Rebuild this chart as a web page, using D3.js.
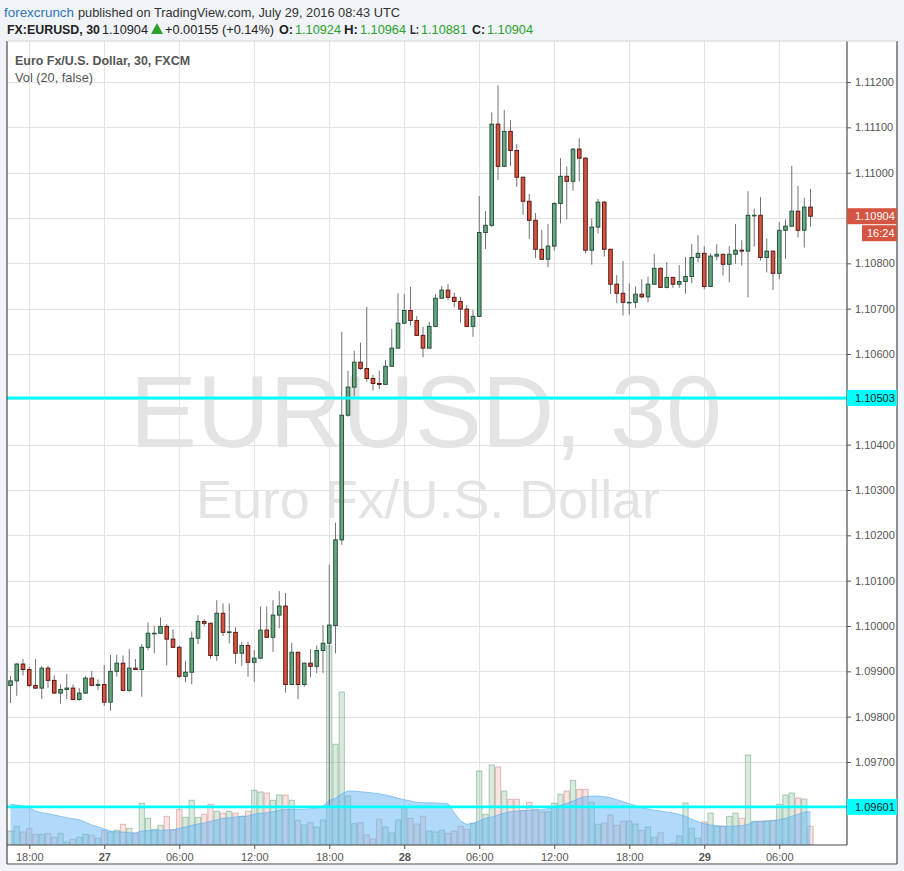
<!DOCTYPE html>
<html><head><meta charset="utf-8">
<script src="https://cdn.jsdelivr.net/npm/d3@7"></script>
<style>
html,body{margin:0;padding:0;background:#f0f3f7;}
svg{display:block;font-family:"Liberation Sans",Arial,sans-serif;}
</style></head><body>
<svg id="chart" width="904" height="871"></svg>
<script>
// ---------- DATA ----------
const startTime = "2016-07-26T16:30:00Z"; // first 30-minute bar
const barMinutes = 30;
const opens = [1.09869,1.09879,1.09916,1.09904,1.09869,1.09863,1.09907,1.09880,1.09852,1.09860,
1.09863,1.09838,1.09852,1.09885,1.09869,1.09871,1.09832,1.09900,1.09918,1.09858,
1.09907,1.09904,1.09953,1.09983,1.09984,1.09999,1.09971,1.09953,1.09889,1.09898,
1.09973,1.10010,1.10006,1.09935,1.10028,1.09986,1.09986,1.09940,1.09957,1.09920,
1.09929,1.09991,1.09975,1.10024,1.10044,1.09871,1.09942,1.09871,1.09918,1.09911,
1.09946,1.09962,1.10001,1.10190,1.10465,1.10527,1.10582,1.10568,1.10546,1.10535,
1.10533,1.10573,1.10613,1.10668,1.10696,1.10674,1.10641,1.10613,1.10661,1.10723,
1.10741,1.10725,1.10716,1.10699,1.10661,1.10683,1.10868,1.10884,1.11107,1.11014,
1.11091,1.11049,1.10990,1.10937,1.10895,1.10831,1.10809,1.10838,1.10932,1.10992,
1.10981,1.11052,1.11032,1.10829,1.10880,1.10935,1.10831,1.10754,1.10734,1.10713,
1.10714,1.10732,1.10726,1.10754,1.10789,1.10747,1.10769,1.10754,1.10760,1.10771,
1.10813,1.10822,1.10749,1.10816,1.10820,1.10798,1.10820,1.10829,1.10827,1.10905,
1.10906,1.10813,1.10827,1.10778,1.10873,1.10882,1.10915,1.10873,1.10924];
const highs = [1.09890,1.09919,1.09927,1.09910,1.09927,1.09912,1.09912,1.09891,1.09871,1.09894,
1.09871,1.09863,1.09890,1.09901,1.09882,1.09914,1.09936,1.09936,1.09935,1.09949,
1.09927,1.09960,1.10008,1.10000,1.10019,1.10004,1.09993,1.09957,1.09923,1.09988,
1.10024,1.10015,1.10007,1.10057,1.10050,1.10050,1.09997,1.09965,1.09965,1.09947,
1.10043,1.10043,1.10057,1.10077,1.10073,1.09963,1.09943,1.09919,1.09949,1.09957,
1.10002,1.10135,1.10228,1.10649,1.10563,1.10607,1.10625,1.10704,1.10554,1.10563,
1.10587,1.10655,1.10734,1.10732,1.10748,1.10684,1.10660,1.10671,1.10732,1.10750,
1.10754,1.10735,1.10726,1.10708,1.10697,1.10949,1.10915,1.11133,1.11193,1.11138,
1.11116,1.11063,1.10991,1.10953,1.10911,1.10874,1.10887,1.10935,1.11032,1.11014,
1.11054,1.11076,1.11034,1.10899,1.10942,1.10937,1.10832,1.10774,1.10805,1.10756,
1.10749,1.10765,1.10771,1.10821,1.10791,1.10803,1.10770,1.10796,1.10814,1.10843,
1.10862,1.10838,1.10822,1.10842,1.10821,1.10838,1.10887,1.10851,1.10959,1.10921,
1.10946,1.10855,1.10828,1.10891,1.10897,1.11015,1.10971,1.10944,1.10964];
const lows = [1.09830,1.09846,1.09891,1.09865,1.09861,1.09839,1.09863,1.09850,1.09829,1.09839,
1.09837,1.09835,1.09850,1.09868,1.09859,1.09824,1.09813,1.09888,1.09856,1.09855,
1.09903,1.09844,1.09947,1.09940,1.09984,1.09913,1.09952,1.09885,1.09876,1.09871,
1.09960,1.10000,1.09928,1.09923,1.09978,1.09962,1.09917,1.09912,1.09888,1.09877,
1.09927,1.09974,1.09943,1.09995,1.09853,1.09869,1.09838,1.09866,1.09887,1.09896,
1.09896,1.09601,1.09940,1.10179,1.10462,1.10507,1.10565,1.10539,1.10519,1.10523,
1.10532,1.10572,1.10612,1.10667,1.10663,1.10640,1.10593,1.10612,1.10660,1.10722,
1.10719,1.10703,1.10669,1.10660,1.10638,1.10682,1.10832,1.10880,1.10984,1.11013,
1.11015,1.10969,1.10907,1.10854,1.10812,1.10808,1.10791,1.10828,1.10888,1.10897,
1.10960,1.10981,1.10822,1.10797,1.10866,1.10815,1.10732,1.10712,1.10685,1.10687,
1.10701,1.10723,1.10714,1.10753,1.10746,1.10745,1.10746,1.10746,1.10733,1.10756,
1.10802,1.10743,1.10748,1.10807,1.10773,1.10758,1.10799,1.10795,1.10725,1.10837,
1.10806,1.10780,1.10741,1.10765,1.10810,1.10880,1.10857,1.10835,1.10881];
const closes = [1.09879,1.09916,1.09904,1.09869,1.09863,1.09907,1.09880,1.09852,1.09860,1.09863,
1.09838,1.09852,1.09885,1.09869,1.09871,1.09832,1.09900,1.09918,1.09858,1.09907,
1.09904,1.09953,1.09984,1.09984,1.09999,1.09971,1.09953,1.09889,1.09898,1.09973,
1.10010,1.10006,1.09935,1.10028,1.09986,1.09987,1.09940,1.09957,1.09920,1.09929,
1.09991,1.09975,1.10024,1.10044,1.09871,1.09942,1.09871,1.09918,1.09911,1.09946,
1.09962,1.10002,1.10190,1.10465,1.10527,1.10582,1.10568,1.10546,1.10535,1.10533,
1.10573,1.10613,1.10668,1.10696,1.10674,1.10641,1.10613,1.10661,1.10723,1.10741,
1.10725,1.10716,1.10699,1.10661,1.10683,1.10868,1.10884,1.11107,1.11014,1.11091,
1.11049,1.10990,1.10937,1.10895,1.10831,1.10809,1.10838,1.10932,1.10992,1.10981,
1.11052,1.11032,1.10829,1.10880,1.10935,1.10831,1.10754,1.10734,1.10714,1.10714,
1.10732,1.10726,1.10754,1.10789,1.10747,1.10769,1.10754,1.10760,1.10771,1.10813,
1.10822,1.10749,1.10816,1.10820,1.10798,1.10820,1.10829,1.10827,1.10906,1.10906,
1.10813,1.10827,1.10778,1.10873,1.10882,1.10915,1.10873,1.10924,1.10904];
const volumes = [14,18.7,13,16.7,10.7,10.7,11.7,7.7,11.7,3,
5.7,7.7,10.7,9.7,6.7,14.7,13,14.7,20.7,16.7,
11.7,41.7,26.7,15.7,19.7,28.7,15,35.7,27.7,44.7,
27.7,30.7,40.7,33.7,32,33.7,32,28.7,33.7,54.7,
53,52,44.7,50,50,44.7,24.7,20,22.3,18,
25,199,100.7,153,49,21.3,22.3,10,6,25.7,
18,12,25,37.3,26.7,21,28.7,14,13,14.7,
11.7,14,18.7,15.7,21.7,74,30.7,80,78,54,
45.7,45.7,34.7,42.7,35.7,33.3,33.3,41.7,50.7,54,
64.7,55.7,55.7,42.7,20.7,22,30,19.7,23.7,24,
21,14.7,18,7.7,12.3,0.7,2,9,42,16.7,
6.7,23,32,18.7,18.7,28.7,32,26.7,90,23.7,
23.7,24,24.7,40.7,50,52,47,46,18.7];
const volumeMA = [40.7,40,39,37.3,34,32.3,31.3,30,28.7,27.3,
26.3,25.3,22.7,20,18,16,14,13.3,13,12.3,
12,14,14.3,14.7,14.7,15,15.3,16.7,18,19.7,
21,22,23.7,25,26.7,27.3,28,28.7,29,30.7,
31.7,32.3,33.3,34.7,35.7,35.7,35.7,35.7,36.3,37.3,
38.7,44.7,46.7,51.3,54,54,53.3,52.7,52,51.3,
50,48.7,46.7,45.3,44,42.7,42.3,42.3,42,41.7,
41.3,32.3,24,20.7,21.7,24,26.7,28,30,32,
33.3,34,34.3,34.7,35,35.3,36.3,37.7,39.7,41.7,
44,46.7,48.3,49,49,48.3,47.3,45.3,43.3,41.3,
39.3,37.3,36,34.7,34,33,32,30.7,28.7,25.7,
23.3,21.3,20,19.3,18.7,18.7,19,19.3,20.7,23,
23.7,24,24.3,25.3,26.7,28.7,30.7,33,33.3];
const priceTicks = [1.096,1.097,1.098,1.099,1.100,1.101,1.102,1.103,1.104,1.105,1.106,1.107,1.108,1.109,1.110,1.111,1.112];
const timeTickLabels = ["18:00","27","06:00","12:00","18:00","28","06:00","12:00","18:00","29","06:00"];
const horizontalLines = [1.10503, 1.09601];
const lastPrice = 1.10904;
const countdown = "16:24";

// ---------- LAYOUT ----------
const svg = d3.select("#chart");
const L = 7, R = 847, T = 41, B = 845, FR = 897, FB = 864;
const UP = "#6ba583", UPB = "#225437", DN = "#d75442", DNB = "#5b1a13", WICK = "#737375";
const t = i => new Date(Date.parse(startTime) + i * barMinutes * 60000);
const x = d3.scaleUtc().domain([t(-0.56), t(133.84)]).range([L, R]);
const y = d3.scaleLinear().domain([1.095169, 1.112905]).range([B, T]);
const yv = d3.scaleLinear().domain([0, 200]).range([B, B - 200]);
const bars = opens.map((o, i) => ({i, time: t(i), o, h: highs[i], l: lows[i], c: closes[i], v: volumes[i], ma: volumeMA[i], up: closes[i] >= o}));
const barW = x(t(1)) - x(t(0));

// panel
svg.append("rect").attr("x", L).attr("y", T).attr("width", FR - L).attr("height", FB - T).attr("fill", "#fff");
svg.append("defs").append("clipPath").attr("id", "plot").append("rect")
  .attr("x", L).attr("y", T).attr("width", R - L).attr("height", B - T);

// watermark
svg.append("text").attr("x", 426).attr("y", 447).attr("text-anchor", "middle")
  .attr("font-size", 102).attr("fill", "#e4e4e4").attr("textLength", 592).attr("lengthAdjust", "spacingAndGlyphs")
  .text("EURUSD, 30");
svg.append("text").attr("x", 428).attr("y", 518).attr("text-anchor", "middle")
  .attr("font-size", 54).attr("fill", "#e4e4e4").attr("textLength", 464).attr("lengthAdjust", "spacingAndGlyphs")
  .text("Euro Fx/U.S. Dollar");

// grid
const timeTicks = d3.utcHour.every(6).range(x.domain()[0], x.domain()[1]);
const grid = svg.append("g").attr("stroke", "#e3e3e3").attr("stroke-width", 1);
grid.selectAll("line.h").data(priceTicks).join("line")
  .attr("x1", L).attr("x2", R).attr("y1", d => Math.round(y(d)) + 0.5).attr("y2", d => Math.round(y(d)) + 0.5);
grid.selectAll("line.v").data(timeTicks).join("line")
  .attr("y1", T).attr("y2", B).attr("x1", d => Math.round(x(d)) + 0.5).attr("x2", d => Math.round(x(d)) + 0.5);

const plot = svg.append("g").attr("clip-path", "url(#plot)");

// volume
plot.append("g").selectAll("rect").data(bars).join("rect")
  .attr("x", d => x(d.time) - barW / 2 + 0.5).attr("width", barW - 1)
  .attr("y", d => yv(d.v)).attr("height", d => B - yv(d.v))
  .attr("fill", d => d.up ? "rgba(107,165,131,0.24)" : "rgba(215,84,66,0.16)")
  .attr("stroke", d => d.up ? "rgba(90,160,110,0.5)" : "rgba(190,110,110,0.45)").attr("stroke-width", 1);

// volume MA area
const area = d3.area().x(d => x(d.time)).y0(B).y1(d => yv(d.ma)).curve(d3.curveLinear);
plot.append("path").datum(bars).attr("d", area).attr("fill", "rgba(100,181,246,0.5)");
plot.append("path").datum(bars).attr("d", d3.line().x(d => x(d.time)).y(d => yv(d.ma)))
  .attr("fill", "none").attr("stroke", "rgba(90,170,240,0.6)").attr("stroke-width", 1);

// candles
const cg = plot.append("g");
cg.selectAll("line").data(bars).join("line")
  .attr("x1", d => x(d.time)).attr("x2", d => x(d.time))
  .attr("y1", d => y(d.h)).attr("y2", d => y(d.l))
  .attr("stroke", WICK).attr("stroke-width", 1);
cg.selectAll("rect").data(bars).join("rect")
  .attr("x", d => x(d.time) - 1.8).attr("width", 3.6)
  .attr("y", d => y(Math.max(d.o, d.c)))
  .attr("height", d => Math.max(0.6, Math.abs(y(d.o) - y(d.c))))
  .attr("fill", d => d.up ? UP : DN).attr("stroke", d => d.up ? UPB : DNB).attr("stroke-width", 1);

// horizontal cyan lines
plot.selectAll("line.hl").data(horizontalLines).join("line")
  .attr("x1", L).attr("x2", R).attr("y1", d => y(d)).attr("y2", d => y(d))
  .attr("stroke", "#00ffff").attr("stroke-width", 2.8);

// price axis
const fmt = d3.format(".5f");
const ya = svg.append("g").attr("transform", `translate(${R},0)`)
  .call(d3.axisRight(y).tickValues(priceTicks).tickFormat(fmt).tickSize(4).tickPadding(4));
ya.select(".domain").remove();
ya.selectAll(".tick line").attr("stroke", "#555");
ya.selectAll(".tick text").attr("fill", "#555").attr("font-size", 11).attr("font-family", "Liberation Sans, Arial, sans-serif");

// time axis
const xa = svg.append("g").attr("transform", `translate(0,${B})`)
  .call(d3.axisBottom(x).tickValues(timeTicks).tickSize(4).tickPadding(4)
    .tickFormat((d, i) => timeTickLabels[i]));
xa.select(".domain").remove();
xa.selectAll(".tick line").attr("stroke", "#555");
xa.selectAll(".tick text").attr("fill", "#555").attr("font-size", 11)
  .attr("font-family", "Liberation Sans, Arial, sans-serif")
  .attr("font-weight", (d, i) => /^\d\d$/.test(timeTickLabels[i]) ? "bold" : "normal");

// frame lines
const fr = svg.append("g").attr("stroke", "#4a4a4a").attr("stroke-width", 1.2);
fr.append("line").attr("x1", L).attr("x2", L).attr("y1", T).attr("y2", FB);
fr.append("line").attr("x1", L).attr("x2", FR).attr("y1", FB).attr("y2", FB);
fr.append("line").attr("x1", FR).attr("x2", FR).attr("y1", T).attr("y2", FB);
fr.append("line").attr("x1", R).attr("x2", R).attr("y1", T).attr("y2", B);
fr.append("line").attr("x1", L).attr("x2", R).attr("y1", B).attr("y2", B);
svg.append("line").attr("x1", L).attr("x2", FR).attr("y1", T).attr("y2", T).attr("stroke", "#d4d4d4");

// price labels on axis
function axisLabel(v, bg, fg) {
  const yy = y(v);
  svg.append("rect").attr("x", R).attr("y", yy - 8).attr("width", FR - R).attr("height", 16).attr("fill", bg);
  svg.append("text").attr("x", 855).attr("y", yy + 4).attr("font-size", 11).attr("fill", fg).text(fmt(v));
}
horizontalLines.forEach(v => axisLabel(v, "#00ffff", "#1a1a1a"));
axisLabel(lastPrice, "#d65442", "#fff");
svg.append("rect").attr("x", 862).attr("y", y(lastPrice) + 9).attr("width", FR - 862).attr("height", 16).attr("fill", "#d65442");
svg.append("text").attr("x", 867).attr("y", y(lastPrice) + 21).attr("font-size", 11).attr("fill", "#fff").text(countdown);

// header
function txt(xx, yy, s, o) {
  const e = svg.append("text").attr("x", xx).attr("y", yy).attr("font-size", o.size || 13)
    .attr("fill", o.fill || "#333").attr("font-weight", o.weight || "normal").text(s);
  if (o.len) e.attr("textLength", o.len).attr("lengthAdjust", "spacingAndGlyphs");
}
txt(4, 17, "forexcrunch", {fill: "#2f75b5", len: 70});
txt(78, 17, "published on TradingView.com, July 29, 2016 08:43 UTC", {fill: "#333", len: 322});
const G = "#2ba02b";
txt(7, 34, "FX:EURUSD, 30", {weight: "bold", fill: "#222", len: 93});
txt(102, 34, fmt(lastPrice), {fill: "#222", len: 46});
svg.append("path").attr("d", "M151,34 L157,23 L163,34 Z").attr("fill", G);
txt(165, 34, "+0.00155 (+0.14%)", {fill: "#222", len: 109});
const ohlc = [["O:", opens[128], 279, 14], ["H:", highs[128], 344, 14], ["L:", lows[128], 410, 9], ["C:", closes[128], 472, 13]];
ohlc.forEach(([k, v, xx, kw]) => {
  txt(xx, 34, k, {weight: "bold", fill: "#222", len: kw});
  txt(xx + kw + 2, 34, fmt(v), {fill: G, len: 46});
});
txt(15, 65, "Euro Fx/U.S. Dollar, 30, FXCM", {weight: "bold", fill: "#555", len: 175});
txt(15, 82, "Vol (20, false)", {fill: "#555", len: 78});
</script>
</body></html>
